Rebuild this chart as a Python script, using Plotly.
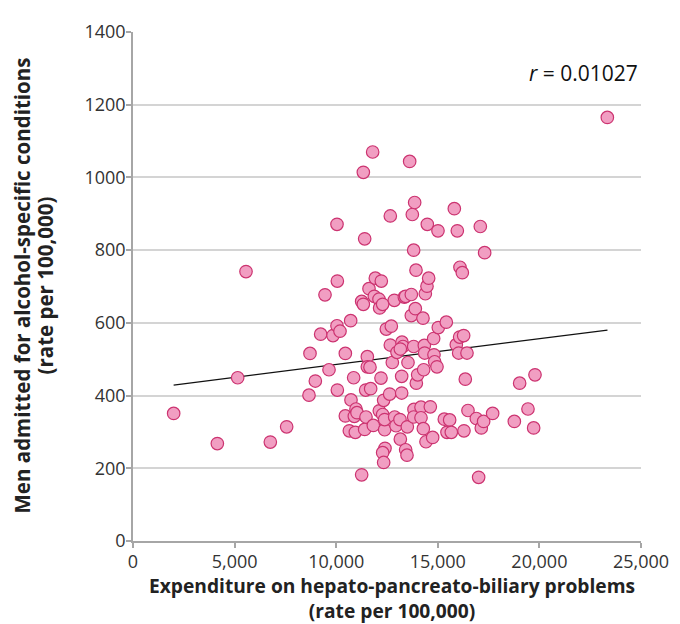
import plotly.graph_objects as go

# Expenditure on hepato-pancreato-biliary problems (rate per 100,000)
expenditure = [
    2001, 4150, 5151, 5561, 6758, 7562, 8661, 8710, 8973, 9235,
    9449, 9646, 9843, 10039, 10056, 10039, 10187, 10056, 10450, 10450,
    10646, 10712, 10728, 10859, 10892, 10941, 10974, 11023, 11253, 11335,
    11253, 11335, 11401, 11401, 11450, 11466, 11532, 11532, 11614, 11663,
    11696, 11794, 11827, 11876, 11925, 12106, 12138, 12204, 12220, 12286,
    12122, 12286, 12335, 12384, 12384, 12401, 12286, 12335, 12466, 12630,
    12663, 12712, 12663, 12762, 12860, 12877, 12943, 12992, 13139, 13156,
    13222, 13222, 13238, 13287, 13156, 13353, 13418, 13418, 13484, 13500,
    13533, 13615, 13697, 13697, 13746, 13812, 13828, 13812, 13812, 13861,
    13894, 13927, 13943, 14009, 14173, 14173, 14271, 14288, 14304, 14337,
    14353, 14386, 14419, 14468, 14484, 14550, 14632, 14747, 14796, 14812,
    14845, 14960, 15009, 15025, 15320, 15419, 15452, 15583, 15665, 15813,
    15911, 15960, 16026, 16075, 16091, 16206, 16272, 16288, 16353, 16436,
    16485, 16895, 17010, 17092, 17141, 17256, 17305, 17699, 18766, 19028,
    19438, 19717, 19783, 23343,
]

# Men admitted for alcohol-specific conditions (rate per 100,000)
admissions = [
    351, 268, 449, 741, 272, 314, 401, 516, 440, 569,
    677, 471, 565, 871, 715, 592, 577, 415, 516, 344,
    303, 606, 388, 449, 343, 299, 363, 353, 659, 651,
    182, 1014, 831, 307, 415, 341, 507, 479, 694, 478,
    419, 1070, 318, 673, 723, 665, 641, 448, 715, 651,
    358, 348, 387, 306, 334, 255, 243, 216, 583, 404,
    894, 591, 539, 491, 662, 341, 317, 519, 334, 280,
    407, 453, 547, 535, 528, 671, 673, 251, 236, 314,
    491, 1044, 678, 620, 898, 800, 362, 341, 535, 931,
    639, 745, 434, 457, 368, 339, 613, 309, 471, 538,
    517, 680, 273, 701, 871, 723, 369, 285, 557, 512,
    493, 479, 853, 587, 335, 602, 299, 333, 299, 914,
    540, 853, 517, 561, 753, 738, 565, 303, 445, 517,
    359, 337, 175, 865, 311, 329, 793, 351, 329, 434,
    363, 311, 457, 1165,
]

# Fitted line end points
trend_x = [2000, 23350]
trend_y = [429, 580]

x_ticks = [0, 5000, 10000, 15000, 20000, 25000]
y_ticks = [0, 200, 400, 600, 800, 1000, 1200, 1400]

r_label = "<i>r</i> = 0.01027"
x_title_lines = ["Expenditure on hepato-pancreato-biliary problems", "(rate per 100,000)"]
y_title_lines = ["Men admitted for alcohol-specific conditions", "(rate per 100,000)"]

FONT = "Open Sans"
AXIS_COL = "#a6a6a6"
GRID_COL = "#d4d4d4"
TICK_FONT = dict(family=FONT, size=18, color="#333333")

fig = go.Figure()

fig.add_trace(go.Scatter(
    x=trend_x, y=trend_y, mode="lines",
    line=dict(color="#111111", width=1.2),
    hoverinfo="skip", showlegend=False,
))

fig.add_trace(go.Scatter(
    x=expenditure, y=admissions, mode="markers",
    marker=dict(size=12.5, color="#F19EC2",
                line=dict(color="#CC3370", width=1.2)),
    showlegend=False,
))

annotations = [
    dict(text=r_label, xref="paper", yref="paper",
         x=0.998, y=0.919, xanchor="right", yanchor="middle",
         showarrow=False, font=dict(family=FONT, size=21, color="#111111")),
    dict(text="<br>".join("<b>" + t + "</b>" for t in x_title_lines),
         xref="paper", yref="paper", x=0.509, y=-0.112,
         xanchor="center", yanchor="middle", showarrow=False, borderpad=0,
         font=dict(family=FONT, size=19.2, color="#222222")),
]
for txt, xp in zip(y_title_lines, [-0.2185, -0.1713]):
    annotations.append(dict(
        text="<b>" + txt + "</b>", xref="paper", yref="paper",
        x=xp, y=0.502, xanchor="center", yanchor="middle", textangle=-90,
        showarrow=False, borderpad=0,
        font=dict(family=FONT, size=20.5, color="#222222")))

fig.update_layout(
    width=680, height=624,
    margin=dict(l=125, r=47, t=24, b=91),
    paper_bgcolor="white", plot_bgcolor="white",
    font=dict(family=FONT, size=18, color="#333333"),
    xaxis=dict(
        range=[0, 25000], tickvals=x_ticks, tickformat=",d",
        showgrid=False, zeroline=False,
        showline=True, linecolor=AXIS_COL, linewidth=1.5,
        ticks="outside", ticklen=5, tickcolor=AXIS_COL, tickwidth=1.5,
        tickfont=TICK_FONT, ticklabelstandoff=-1,
    ),
    yaxis=dict(
        range=[0, 1400], tickvals=y_ticks, tickformat="d",
        showgrid=True, gridcolor=GRID_COL, gridwidth=1.5,
        zeroline=False,
        showline=True, linecolor=AXIS_COL, linewidth=1.5,
        ticks="outside", ticklen=5, tickcolor=AXIS_COL, tickwidth=1.5,
        tickfont=TICK_FONT, ticklabelstandoff=-3,
    ),
    annotations=annotations,
)

fig.write_html("out.html")
